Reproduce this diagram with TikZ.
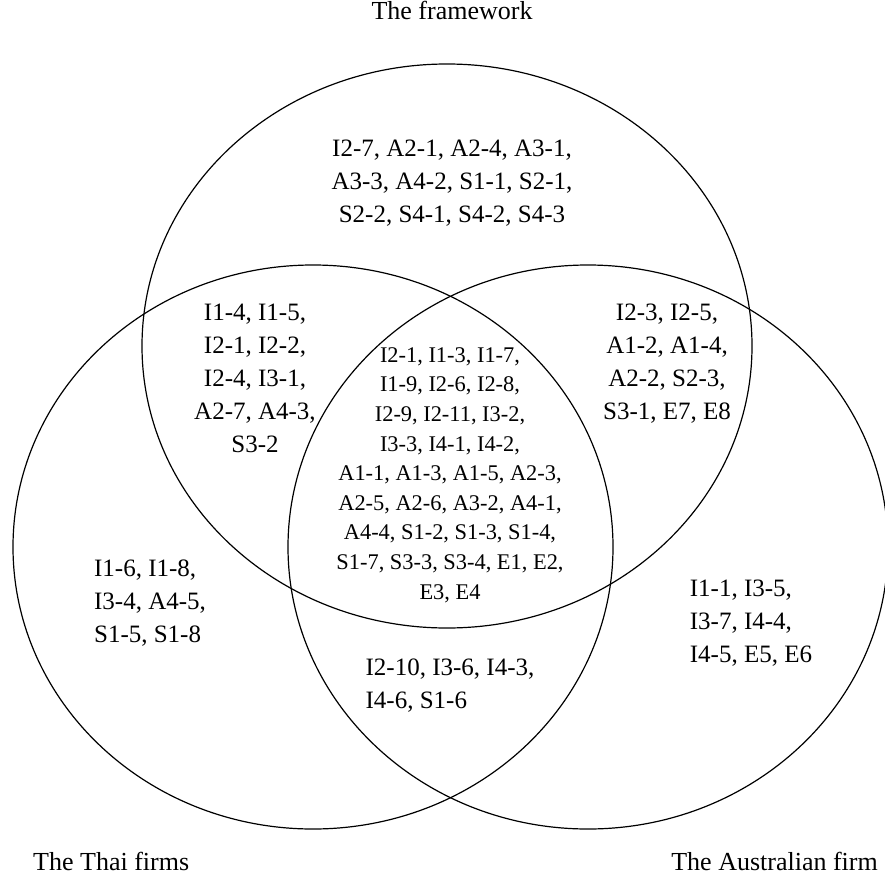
\documentclass[tikz,border=0pt]{standalone}
\usepackage{fontspec}
\setmainfont{Liberation Serif}
\begin{document}
\begin{tikzpicture}[x=1pt, y=-1pt,
    set/.style={line width=1.2pt},
    lbl/.style={font=\fontsize{26}{31}\selectfont, inner sep=0pt},
    big/.style={font=\fontsize{25}{33}\selectfont, inner sep=0pt},
    small/.style={font=\fontsize{22.4}{29.6}\selectfont, inner sep=0pt}]
    \useasboundingbox (0,0) rectangle (885,875);

    % the three sets
    \draw[set] (447,346) ellipse [x radius=305, y radius=282];
    \draw[set] (313,547) ellipse [x radius=300, y radius=282];
    \draw[set] (588,547) ellipse [x radius=300, y radius=282];

    % set names
    \node[lbl, anchor=base] (fw) at (452,20) {The framework};
    \node[lbl, anchor=base west] (thai) at (33,870) {The Thai firms};
    \node[lbl, anchor=base east] (aus) at (878,870) {The Australian firm};

    % items
    \node[big, align=center] (fwonly) at (452,183)
        {I2-7, A2-1, A2-4, A3-1,\\ A3-3, A4-2, S1-1, S2-1,\\ S2-2, S4-1, S4-2, S4-3};
    \node[big, align=center] (fwthai) at (255,378)
        {I1-4, I1-5,\\ I2-1, I2-2,\\ I2-4, I3-1,\\ A2-7, A4-3,\\ S3-2};
    \node[big, align=center] (fwaus) at (667,364)
        {I2-3, I2-5,\\ A1-2, A1-4,\\ A2-2, S2-3,\\ S3-1, E7, E8};
    \node[small, align=center] (all) at (450,475)
        {I2-1, I1-3, I1-7,\\ I1-9, I2-6, I2-8,\\ I2-9, I2-11, I3-2,\\ I3-3, I4-1, I4-2,\\
         A1-1, A1-3, A1-5, A2-3,\\ A2-5, A2-6, A3-2, A4-1,\\ A4-4, S1-2, S1-3, S1-4,\\
         S1-7, S3-3, S3-4, E1, E2,\\ E3, E4};
    \node[big, align=left] (thaionly) at (150,603)
        {I1-6, I1-8,\\ I3-4, A4-5,\\ S1-5, S1-8};
    \node[big, align=left] (thaiaus) at (450,686)
        {I2-10, I3-6, I4-3,\\ I4-6, S1-6};
    \node[big, align=left] (ausonly) at (751,623)
        {I1-1, I3-5,\\ I3-7, I4-4,\\ I4-5, E5, E6};
\end{tikzpicture}
\end{document}
